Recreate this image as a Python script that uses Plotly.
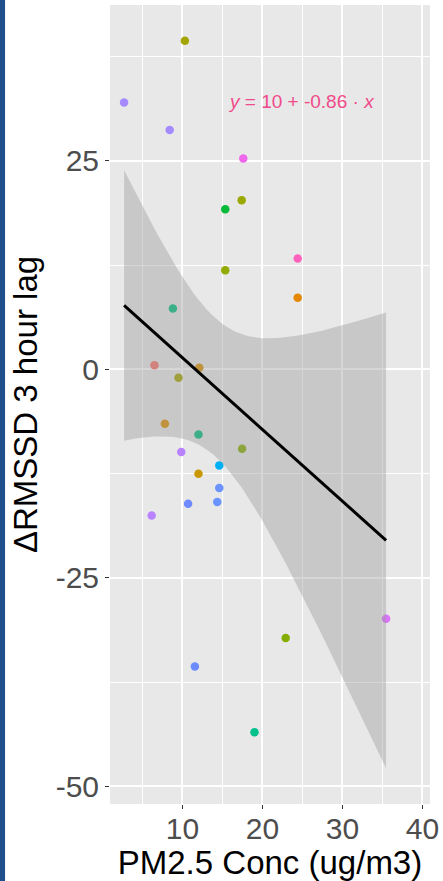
import numpy as np
import plotly.graph_objects as go

# PM2.5 exposure vs change in RMSSD (3 hour lag), one point per observation
pm25 = [2.7, 10.3, 8.4, 17.6, 17.4, 15.35, 24.4, 15.35, 24.4, 8.8, 6.5, 12.1,
        9.5, 7.8, 12.0, 9.85, 14.6, 12.0, 14.6, 10.7, 14.35, 6.15, 17.45,
        11.55, 22.9, 19.0, 35.45]
rmssd = [32.0, 39.4, 28.7, 25.3, 20.3, 19.2, 13.3, 11.9, 8.6, 7.3, 0.5, 0.2,
         -1.0, -6.5, -7.8, -9.9, -11.5, -12.5, -14.2, -16.1, -15.9, -17.5, -9.5,
         -35.6, -32.2, -43.5, -29.9]
point_colors = ["#A58AFF", "#A3A500", "#A58AFF", "#EF67EB", "#9AA800", "#00BA38",
                "#FF62BC", "#93AA00", "#E58700", "#00BF7D", "#F8766D", "#D89000",
                "#A3A500", "#DB8E00", "#00BF7D", "#B983FF", "#00B0F6", "#C99800",
                "#6B93FF", "#6F8AFF", "#6B93FF", "#B983FF", "#85AD00", "#6B8BFF",
                "#85AD00", "#00C08B", "#DB72FB"]

# Fitted regression (as printed on the chart)
intercept = 10
slope = -0.86

x_ticks = [10, 20, 30, 40]
y_ticks = [-50, -25, 0, 25]
y_tick_labels = ["-50", "-25", "0", "25"]

x = np.array(pm25)
y = np.array(rmssd)
n = len(x)
xs = np.linspace(x.min(), x.max(), 80)
fit = intercept + slope * xs
resid = y - (intercept + slope * x)
s = np.sqrt(np.sum(resid ** 2) / (n - 2))
sxx = np.sum((x - x.mean()) ** 2)
t_crit = 2.0595  # t(0.975, df=25)
half = t_crit * s * np.sqrt(1 / n + (xs - x.mean()) ** 2 / sxx)
upper = fit + half
lower = fit - half

fig = go.Figure()
fig.add_trace(go.Scatter(
    x=pm25, y=rmssd, mode="markers",
    marker=dict(color=point_colors, size=8.5, line=dict(width=0)),
    showlegend=False, hoverinfo="skip"))
fig.add_trace(go.Scatter(
    x=np.concatenate([xs, xs[::-1]]), y=np.concatenate([upper, lower[::-1]]),
    mode="lines", line=dict(width=0), fill="toself",
    fillcolor="rgba(153,153,153,0.4)", showlegend=False, hoverinfo="skip"))
fig.add_trace(go.Scatter(
    x=xs, y=fit, mode="lines", line=dict(color="black", width=3),
    showlegend=False, hoverinfo="skip"))

eq_text = f"<i>y</i> = {intercept} + {slope:.2f} · <i>x</i>"
fig.add_annotation(x=24.9, y=32.1, xref="x", yref="y", text=eq_text,
                   showarrow=False,
                   font=dict(family="Liberation Sans, Arial", size=19, color="#F04A8A"))

# dark side bar on the left edge of the page
fig.add_shape(type="rect", xref="paper", yref="paper",
              x0=-0.344, x1=-0.328, y0=-0.1, y1=1.01,
              fillcolor="#1F4E8C", line=dict(width=0), layer="above")

axis_font = dict(family="Liberation Sans, Arial", size=30, color="#4D4D4D")
title_font = dict(family="Liberation Sans, Arial", size=33, color="black")

fig.update_xaxes(
    range=[0.94, 40.94], tickvals=x_ticks, ticks="outside", ticklen=4,
    tickcolor="#333333", tickwidth=1, tickfont=axis_font, ticklabelstandoff=-6,
    showgrid=True, gridcolor="white", gridwidth=1.5, zeroline=False,
    minor=dict(dtick=5, tick0=0, showgrid=True, gridcolor="white", gridwidth=0.7),
    title=dict(text="PM2.5 Conc (ug/m3)", font=title_font, standoff=0),
    showline=False)
fig.update_yaxes(
    range=[-52.1, 43.7], tickvals=y_ticks, ticktext=y_tick_labels,
    ticks="outside", ticklen=4, tickcolor="#333333", tickwidth=1,
    tickfont=axis_font, showgrid=True, gridcolor="white", gridwidth=1.5,
    zeroline=False,
    minor=dict(dtick=12.5, tick0=0, showgrid=True, gridcolor="white", gridwidth=0.7),
    title=dict(text="ΔRMSSD 3 hour lag", font=title_font, standoff=8),
    showline=False)

fig.update_layout(
    width=443, height=881,
    margin=dict(l=110, r=13, t=5, b=77),
    plot_bgcolor="#E8E8E8", paper_bgcolor="white",
    showlegend=False)

fig.write_html("out.html")
